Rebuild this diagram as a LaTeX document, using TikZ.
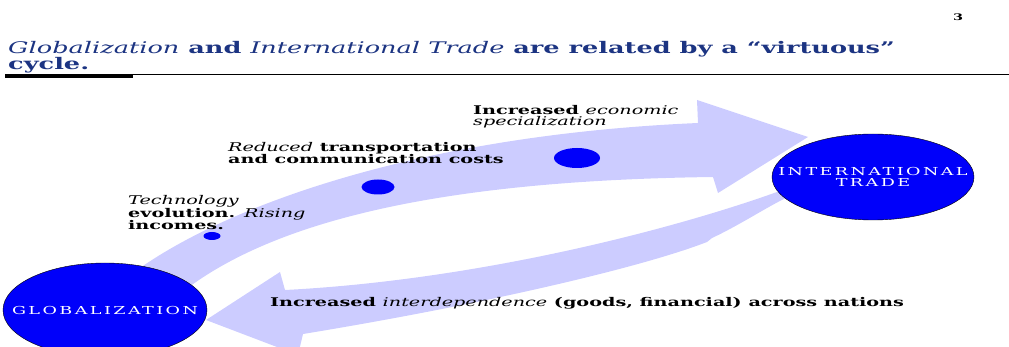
\documentclass[tikz,border=0pt]{standalone}
\usepackage{fontspec}
\setmainfont[FakeStretch=1.6]{DejaVu Serif}
\usetikzlibrary{shapes.geometric}
\definecolor{bandblue}{RGB}{204,204,255}
\definecolor{ballblue}{RGB}{0,0,250}
\definecolor{headblue}{RGB}{28,52,130}
\newcommand{\emphit}[1]{{\mdseries\itshape #1}}

\begin{document}
\begin{tikzpicture}[x=1pt,y=-1pt,
	lbl/.style={font=\bfseries\fontsize{12}{11.5}\selectfont,align=left,inner sep=0pt,anchor=north west},
	bubble/.style={ellipse,draw=black,thin,fill=ballblue,inner sep=0pt},
	bubbletext/.style={text=white,inner sep=0pt,align=center,font=\fontsize{11}{11}\selectfont\addfontfeatures{LetterSpace=22}},
	dot/.style={ellipse,fill=ballblue,inner sep=0pt}]
	\useasboundingbox (0,0) rectangle (1009,347);
	\clip (0,0) rectangle (1009,347);
	% heading
	\node[font=\bfseries\fontsize{9}{9}\selectfont] (page) at (958,17) {3};
	\node[anchor=north west,inner sep=0pt,align=left,text=headblue,font=\bfseries\fontsize{16}{16}\selectfont] (title) at (8,41)
		{\emphit{Globalization} and \emphit{International Trade} are related by a “virtuous”\\cycle.};
	\draw[line width=0.8pt] (5,74) -- (1009,74);
	\fill (5,74) rectangle (133,78);
	% the two wide arrows
	\fill[bandblue] (140,268) .. controls (230,205) and (420,135) .. (698,123)
		-- (697,100) -- (808,137) -- (718,193) -- (713,177)
		.. controls (480,180) and (290,210) .. (185,290) -- cycle;
	\fill[bandblue] (788,188) .. controls (680,228) and (480,280) .. (285,290)
		-- (280,272) -- (206,320) -- (298,355) -- (303,334)
		.. controls (480,305) and (640,268) .. (707,242) -- (712,238)
		.. controls (740,225) and (770,205) .. (790,196) -- cycle;
	\node[dot,minimum width=17pt,minimum height=8pt] (d1) at (212,236) {};
	\node[dot,minimum width=33pt,minimum height=15pt] (d2) at (378,187) {};
	\node[dot,minimum width=46pt,minimum height=20pt] (d3) at (577,158) {};
	\node[bubble,minimum width=204pt,minimum height=94pt] (glob) at (105,310) {};
	\node[bubble,minimum width=202pt,minimum height=86pt] (trade) at (873,177) {};
	\node[bubbletext] (globtext) at (glob) {GLOBALIZATION};
	\node[bubbletext] (tradetext) at (trade) {INTERNATIONAL\\TRADE};
	% labels
	\node[lbl] (tech) at (128,195) {\emphit{Technology}\\evolution. \emphit{Rising}\\incomes.};
	\node[lbl] (cost) at (228,142) {\emphit{Reduced} transportation\\and communication costs};
	\node[lbl] (spec) at (473,105) {Increased \emphit{economic}\\\emphit{specialization}};
	\node[lbl,anchor=west] (inter) at (270,303) {Increased \emphit{interdependence} (goods, financial) across nations};
\end{tikzpicture}
\end{document}
